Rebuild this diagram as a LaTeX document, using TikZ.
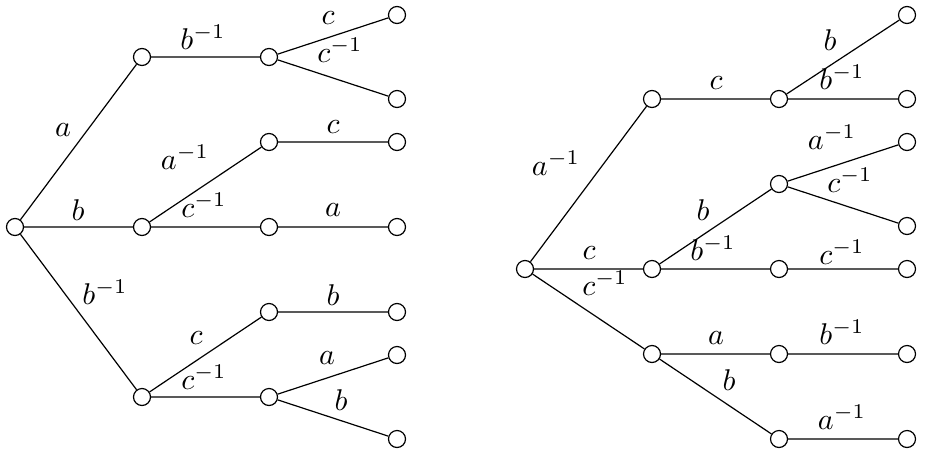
\documentclass[tikz,border=0pt]{standalone}
\usepackage{graphicx}
\newcommand{\lb}[1]{\scalebox{3}{$#1$}}
\begin{document}
\begin{tikzpicture}[x=1pt,y=-1pt,
  vtx/.style={circle,draw,fill=white,minimum size=17pt,inner sep=0pt,line width=1.2pt},
  lbl/.style={inner sep=0pt},
  edge/.style={line width=1.2pt}]
\useasboundingbox (0,0) rectangle (925,453);
% left tree vertices
\node[vtx] (L0) at (15,227) {};
\node[vtx] (L1) at (142,57) {};
\node[vtx] (L2) at (142,227) {};
\node[vtx] (L3) at (142,397) {};
\node[vtx] (L11) at (269,57) {};
\node[vtx] (L21) at (269,142) {};
\node[vtx] (L22) at (269,227) {};
\node[vtx] (L31) at (269,312) {};
\node[vtx] (L32) at (269,397) {};
\node[vtx] (L111) at (397,15) {};
\node[vtx] (L112) at (397,99) {};
\node[vtx] (L211) at (397,142) {};
\node[vtx] (L221) at (397,227) {};
\node[vtx] (L311) at (397,312) {};
\node[vtx] (L321) at (397,355) {};
\node[vtx] (L322) at (397,439) {};
\draw[edge] (L0)--(L1) (L0)--(L2) (L0)--(L3)
  (L1)--(L11) (L2)--(L21) (L2)--(L22) (L3)--(L31) (L3)--(L32)
  (L11)--(L111) (L11)--(L112) (L21)--(L211) (L22)--(L221)
  (L31)--(L311) (L32)--(L321) (L32)--(L322);
% left labels
\node[lbl] (la1) at (63,130) {\lb{a}};
\node[lbl] (la2) at (78,210) {\lb{b}};
\node[lbl] (la3) at (105,292) {\lb{b^{-1}}};
\node[lbl] (la4) at (203,37) {\lb{b^{-1}}};
\node[lbl] (la5) at (185,157) {\lb{a^{-1}}};
\node[lbl] (la6) at (204,205) {\lb{c^{-1}}};
\node[lbl] (la7) at (196,338) {\lb{c}};
\node[lbl] (la8) at (204,377) {\lb{c^{-1}}};
\node[lbl] (la9) at (328,18) {\lb{c}};
\node[lbl] (la10) at (340,50) {\lb{c^{-1}}};
\node[lbl] (la11) at (333,127) {\lb{c}};
\node[lbl] (la12) at (333,210) {\lb{a}};
\node[lbl] (la13) at (333,295) {\lb{b}};
\node[lbl] (la14) at (327,358) {\lb{a}};
\node[lbl] (la15) at (341,400) {\lb{b}};
% right tree vertices
\node[vtx] (R0) at (525,269) {};
\node[vtx] (R1) at (652,99) {};
\node[vtx] (R2) at (652,269) {};
\node[vtx] (R3) at (652,354) {};
\node[vtx] (R11) at (779,99) {};
\node[vtx] (R21) at (779,184) {};
\node[vtx] (R22) at (779,269) {};
\node[vtx] (R31) at (779,354) {};
\node[vtx] (R32) at (779,439) {};
\node[vtx] (R111) at (907,15) {};
\node[vtx] (R112) at (907,99) {};
\node[vtx] (R211) at (907,142) {};
\node[vtx] (R212) at (907,226) {};
\node[vtx] (R221) at (907,269) {};
\node[vtx] (R311) at (907,354) {};
\node[vtx] (R321) at (907,439) {};
\draw[edge] (R0)--(R1) (R0)--(R2) (R0)--(R3)
  (R1)--(R11) (R2)--(R21) (R2)--(R22) (R3)--(R31) (R3)--(R32)
  (R11)--(R111) (R11)--(R112) (R21)--(R211) (R21)--(R212) (R22)--(R221)
  (R31)--(R311) (R32)--(R321);
% right labels
\node[lbl] (ra1) at (556,163) {\lb{a^{-1}}};
\node[lbl] (ra2) at (589,253) {\lb{c}};
\node[lbl] (ra3) at (605,283) {\lb{c^{-1}}};
\node[lbl] (ra4) at (716,83) {\lb{c}};
\node[lbl] (ra5) at (703,210) {\lb{b}};
\node[lbl] (ra6) at (713,248) {\lb{b^{-1}}};
\node[lbl] (ra7) at (716,338) {\lb{a}};
\node[lbl] (ra8) at (729,380) {\lb{b}};
\node[lbl] (ra9) at (830,40) {\lb{b}};
\node[lbl] (ra10) at (842,77) {\lb{b^{-1}}};
\node[lbl] (ra11) at (832,137) {\lb{a^{-1}}};
\node[lbl] (ra12) at (850,180) {\lb{c^{-1}}};
\node[lbl] (ra13) at (842,252) {\lb{c^{-1}}};
\node[lbl] (ra14) at (842,332) {\lb{b^{-1}}};
\node[lbl] (ra15) at (842,417) {\lb{a^{-1}}};
\end{tikzpicture}
\end{document}
